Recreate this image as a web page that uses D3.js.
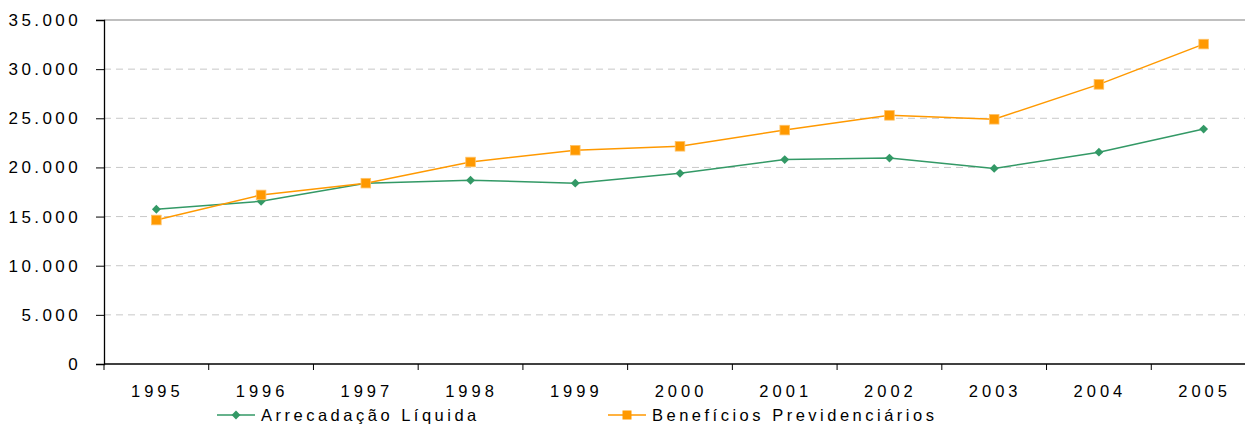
<!DOCTYPE html>
<html>
<head>
<meta charset="utf-8">
<script src="https://cdn.jsdelivr.net/npm/d3@7"></script>
<style>
  body { margin: 0; background: #fff; }
  svg { display: block; font-family: "Liberation Sans", Arial, sans-serif; }
</style>
</head>
<body>
<svg id="chart"></svg>
<script>
const years = ["1995", "1996", "1997", "1998", "1999", "2000", "2001", "2002", "2003", "2004", "2005"];
const arrecadacao = [15750, 16550, 18400, 18700, 18400, 19400, 20800, 20950, 19900, 21550, 23900];
const beneficios = [14650, 17200, 18400, 20550, 21750, 22150, 23800, 25300, 24900, 28450, 32550];
const yTicks = [0, 5000, 10000, 15000, 20000, 25000, 30000, 35000];

const width = 1245;
const height = 425;
const margin = { top: 20, left: 104, bottom: 61 };
const plotRight = 1256;

const green = "#339966";
const orange = "#ff9900";

const svg = d3.select("#chart")
  .attr("width", width)
  .attr("height", height);

const x = d3.scaleBand()
  .domain(years)
  .range([margin.left, plotRight]);

const y = d3.scaleLinear()
  .domain([0, 35000])
  .range([height - margin.bottom, margin.top]);

const fmt = d => d === 0 ? "0" : d3.format(",")(d).replace(/,/g, ".");

// gridlines
svg.append("g")
  .selectAll("line")
  .data(yTicks.filter(d => d > 0 && d < 35000))
  .enter().append("line")
  .attr("x1", margin.left)
  .attr("x2", width)
  .attr("y1", d => y(d))
  .attr("y2", d => y(d))
  .attr("stroke", "#c8c8c8")
  .attr("stroke-width", 1)
  .attr("stroke-dasharray", "7,5");

// top border
svg.append("line")
  .attr("x1", margin.left)
  .attr("x2", width)
  .attr("y1", y(35000))
  .attr("y2", y(35000))
  .attr("stroke", "#808080")
  .attr("stroke-width", 1.2);

// y axis
const yAxis = svg.append("g")
  .attr("transform", `translate(${margin.left},0)`)
  .call(d3.axisLeft(y).tickValues(yTicks).tickFormat(fmt).tickSize(8).tickPadding(15));
yAxis.select(".domain").attr("stroke", "#000").attr("stroke-width", 1.3);
yAxis.selectAll(".tick line").attr("stroke", "#000");
yAxis.selectAll("text")
  .attr("font-size", 17)
  .attr("letter-spacing", 3.4)
  .attr("fill", "#000");

// x axis: ticks at band boundaries
const xAxisG = svg.append("g")
  .attr("transform", `translate(0,${y(0)})`);
xAxisG.append("line")
  .attr("x1", margin.left)
  .attr("x2", width)
  .attr("stroke", "#000")
  .attr("stroke-width", 1.3);
xAxisG.selectAll(".xtick")
  .data(years)
  .enter().append("line")
  .attr("class", "xtick")
  .attr("x1", d => x(d))
  .attr("x2", d => x(d))
  .attr("y1", 0)
  .attr("y2", 6)
  .attr("stroke", "#000");
xAxisG.selectAll(".xlabel")
  .data(years)
  .enter().append("text")
  .attr("class", "xlabel")
  .attr("x", d => x(d) + x.bandwidth() / 2 + 1)
  .attr("y", 33)
  .attr("text-anchor", "middle")
  .attr("font-size", 16.5)
  .attr("letter-spacing", 4)
  .attr("fill", "#000")
  .text(d => d);

const cx = d => x(d) + x.bandwidth() / 2;

const line = d3.line()
  .x((d, i) => cx(years[i]))
  .y(d => y(d));

const diamond = d3.symbol().type(d3.symbolDiamond2).size(50);

// Arrecadação Líquida
svg.append("path")
  .datum(arrecadacao)
  .attr("d", line)
  .attr("fill", "none")
  .attr("stroke", green)
  .attr("stroke-width", 1.5);

svg.append("g")
  .selectAll("path")
  .data(arrecadacao)
  .enter().append("path")
  .attr("d", diamond)
  .attr("transform", (d, i) => `translate(${cx(years[i])},${y(d)})`)
  .attr("fill", green);

// Benefícios Previdenciários
svg.append("path")
  .datum(beneficios)
  .attr("d", line)
  .attr("fill", "none")
  .attr("stroke", orange)
  .attr("stroke-width", 1.5);

svg.append("g")
  .selectAll("rect")
  .data(beneficios)
  .enter().append("rect")
  .attr("x", (d, i) => cx(years[i]) - 4.8)
  .attr("y", d => y(d) - 4.8)
  .attr("width", 9.6)
  .attr("height", 9.6)
  .attr("fill", orange)
  .attr("stroke", "#ffc266")
  .attr("stroke-width", 0.8);

// legend
const legendItems = [
  { name: "Arrecadação Líquida", color: green, x: 217, marker: "diamond" },
  { name: "Benefícios Previdenciários", color: orange, x: 608, marker: "square" }
];
const legendY = 415;
const legend = svg.append("g");
legendItems.forEach(item => {
  const g = legend.append("g");
  g.append("line")
    .attr("x1", item.x)
    .attr("x2", item.x + 38)
    .attr("y1", legendY)
    .attr("y2", legendY)
    .attr("stroke", item.color)
    .attr("stroke-width", 1.5);
  if (item.marker === "diamond") {
    g.append("path")
      .attr("d", diamond)
      .attr("transform", `translate(${item.x + 19},${legendY})`)
      .attr("fill", item.color);
  } else {
    g.append("rect")
      .attr("x", item.x + 19 - 4.5)
      .attr("y", legendY - 4.5)
      .attr("width", 9)
      .attr("height", 9)
      .attr("fill", item.color);
  }
  g.append("text")
    .attr("x", item.x + 44)
    .attr("y", legendY + 6)
    .attr("font-size", 16.5)
    .attr("letter-spacing", 3.5)
    .attr("fill", "#000")
    .text(item.name);
});
</script>
</body>
</html>
